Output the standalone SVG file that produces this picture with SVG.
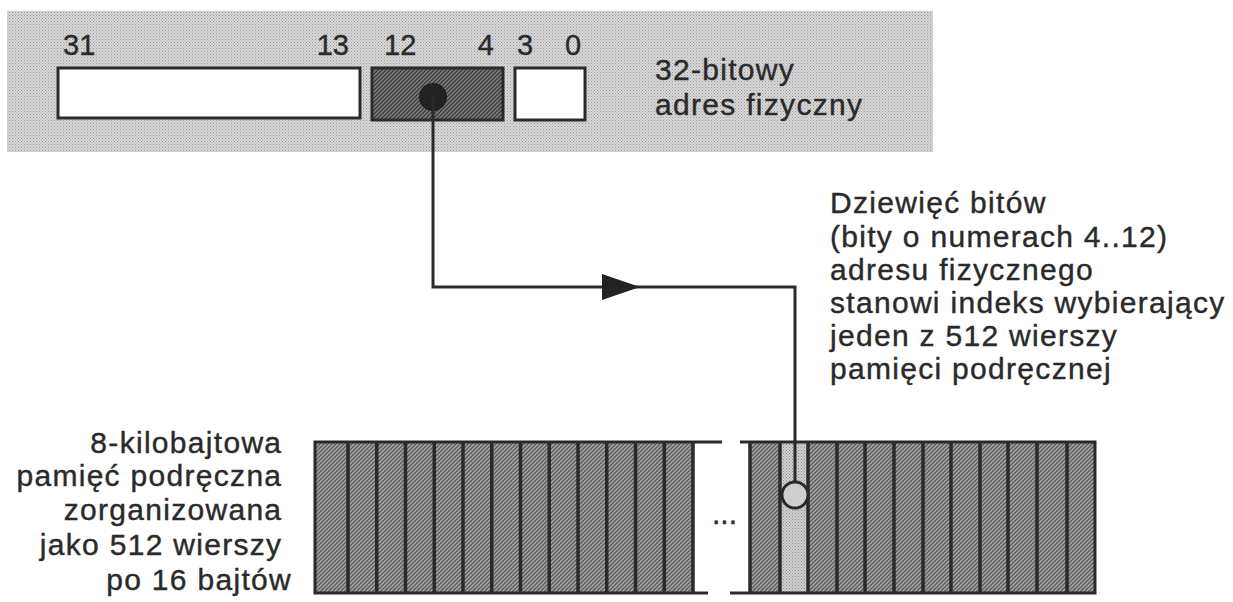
<svg xmlns="http://www.w3.org/2000/svg" width="1233" height="602" viewBox="0 0 1233 602">
  <defs>
    <pattern id="dots" width="3" height="3" patternUnits="userSpaceOnUse">
      <rect width="3" height="3" fill="#d8d8d8"/>
      <rect x="0" y="0" width="1" height="1" fill="#9a9a9a"/>
      <rect x="1.5" y="1.5" width="1" height="1" fill="#aaaaaa"/>
    </pattern>
    <pattern id="hatchDark" width="4" height="4" patternUnits="userSpaceOnUse">
      <rect width="4" height="4" fill="#808080"/>
      <path d="M-1,1 L1,-1 M0,4 L4,0 M3,5 L5,3" stroke="#3c3c3c" stroke-width="1.4"/>
    </pattern>
    <pattern id="hatch" width="4" height="4" patternUnits="userSpaceOnUse">
      <rect width="4" height="4" fill="#a0a0a0"/>
      <path d="M-1,1 L1,-1 M0,4 L4,0 M3,5 L5,3" stroke="#555" stroke-width="1.2"/>
    </pattern>
    <pattern id="light" width="3" height="3" patternUnits="userSpaceOnUse">
      <rect width="3" height="3" fill="#cfcfcf"/>
      <rect x="0" y="0" width="1" height="1" fill="#8e8e8e"/>
      <rect x="1.5" y="1.5" width="1" height="1" fill="#9e9e9e"/>
    </pattern>
    <marker id="arrow" viewBox="0 0 38 26" refX="38" refY="13" markerWidth="38" markerHeight="26" markerUnits="userSpaceOnUse" orient="auto">
      <path d="M0,0 L38,13 L0,26 Z" fill="#222"/>
    </marker>
    <style>
      .t { font-family: "Liberation Sans", Arial, sans-serif; font-size: 30px; letter-spacing: 1.3px; fill: #2a2a2a; stroke: #2a2a2a; stroke-width: 0.4px; }
      .num { font-family: "Liberation Sans", Arial, sans-serif; font-size: 29px; fill: #2a2a2a; stroke: #2a2a2a; stroke-width: 0.4px; }
      .box { stroke: #2a2a2a; stroke-width: 3; }
      .ln { stroke: #2a2a2a; stroke-width: 3; fill: none; }
      .div { stroke: #2a2a2a; stroke-width: 3.5; }
    </style>
  </defs>

  <g id="address">
    <rect x="7" y="11" width="926" height="141" fill="url(#dots)"/>
    <rect class="box" x="58" y="68" width="302" height="50" fill="#ffffff"/>
    <rect class="box" x="372" y="68" width="131" height="52" fill="url(#hatchDark)"/>
    <rect class="box" x="515" y="68" width="70" height="52" fill="#ffffff"/>
    <circle cx="433" cy="97" r="14" fill="#222"/>
    <text class="num" x="63" y="55">31</text>
    <text class="num" x="349" y="55" text-anchor="end">13</text>
    <text class="num" x="384" y="55">12</text>
    <text class="num" x="494" y="55" text-anchor="end">4</text>
    <text class="num" x="517" y="55">3</text>
    <text class="num" x="565" y="55">0</text>
    <text class="t" x="655" y="80">32-bitowy</text>
    <text class="t" x="655" y="115">adres fizyczny</text>
  </g>

  <g id="cache">
    <rect x="315" y="442" width="378" height="151" fill="url(#hatch)"/>
    <rect x="750" y="442" width="345" height="151" fill="url(#hatch)"/>
    <rect x="780" y="442" width="28" height="151" fill="url(#light)"/>
    <path class="ln" d="M315,442 H722 M315,593 H708 M315,440.5 V594.5 M740,442 H1095 M730,593 H1095 M1095,440.5 V594.5"/>
    <g class="div">
      <line x1="348" y1="442" x2="348" y2="593"/>
      <line x1="376.75" y1="442" x2="376.75" y2="593"/>
      <line x1="405.5" y1="442" x2="405.5" y2="593"/>
      <line x1="434.25" y1="442" x2="434.25" y2="593"/>
      <line x1="463" y1="442" x2="463" y2="593"/>
      <line x1="491.75" y1="442" x2="491.75" y2="593"/>
      <line x1="520.5" y1="442" x2="520.5" y2="593"/>
      <line x1="549.25" y1="442" x2="549.25" y2="593"/>
      <line x1="578" y1="442" x2="578" y2="593"/>
      <line x1="606.75" y1="442" x2="606.75" y2="593"/>
      <line x1="635.5" y1="442" x2="635.5" y2="593"/>
      <line x1="664.25" y1="442" x2="664.25" y2="593"/>
      <line x1="693" y1="442" x2="693" y2="593"/>
      <line x1="750" y1="442" x2="750" y2="593"/>
      <line x1="780" y1="442" x2="780" y2="593"/>
      <line x1="808" y1="442" x2="808" y2="593"/>
      <line x1="837" y1="442" x2="837" y2="593"/>
      <line x1="865" y1="442" x2="865" y2="593"/>
      <line x1="894" y1="442" x2="894" y2="593"/>
      <line x1="923" y1="442" x2="923" y2="593"/>
      <line x1="951" y1="442" x2="951" y2="593"/>
      <line x1="980" y1="442" x2="980" y2="593"/>
      <line x1="1008" y1="442" x2="1008" y2="593"/>
      <line x1="1037" y1="442" x2="1037" y2="593"/>
      <line x1="1067" y1="442" x2="1067" y2="593"/>
    </g>
    <text class="t" x="712" y="524" style="letter-spacing:0">...</text>
    <text class="t" text-anchor="end">
      <tspan x="292" y="453">8-kilobajtowa</tspan>
      <tspan x="292" y="486">pamięć podręczna</tspan>
      <tspan x="292" y="520">zorganizowana</tspan>
      <tspan x="292" y="555">jako 512 wierszy</tspan>
      <tspan x="292" y="590">po 16 bajtów</tspan>
    </text>
  </g>

  <g id="note">
    <text class="t">
      <tspan x="830" y="213">Dziewięć bitów</tspan>
      <tspan x="830" y="247">(bity o numerach 4..12)</tspan>
      <tspan x="830" y="280">adresu fizycznego</tspan>
      <tspan x="830" y="313">stanowi indeks wybierający</tspan>
      <tspan x="830" y="346">jeden z 512 wierszy</tspan>
      <tspan x="830" y="379">pamięci podręcznej</tspan>
    </text>
  </g>

  <g id="connectors">
    <path class="ln" d="M433,97 V287 H640" marker-end="url(#arrow)"/>
    <path class="ln" d="M640,287 H795 V482"/>
    <circle cx="795" cy="495" r="13" fill="#cfcfcf" stroke="#2a2a2a" stroke-width="3"/>
  </g>
</svg>
